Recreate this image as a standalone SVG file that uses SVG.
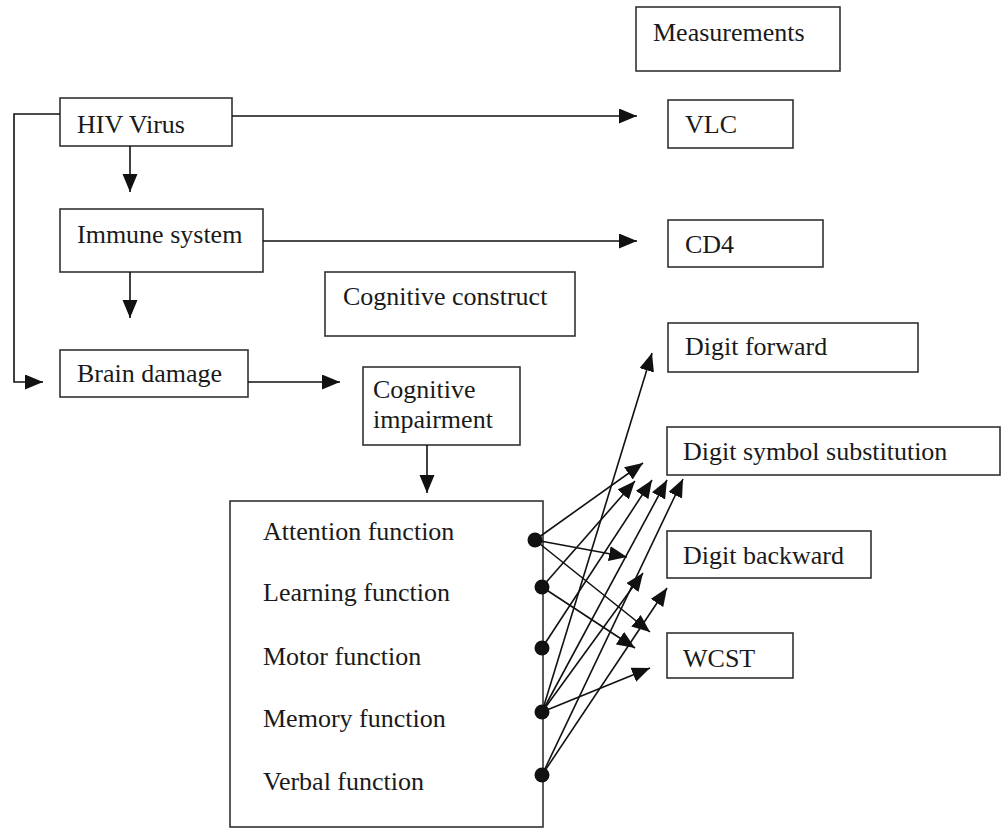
<svg xmlns="http://www.w3.org/2000/svg" width="1003" height="829" viewBox="0 0 1003 829">
<style>
.box{fill:#fff;stroke:#333;stroke-width:1.6}
.t{font-family:"Liberation Serif","Times New Roman",serif;font-size:26px;fill:#1a1a1a}
.c{fill:none;stroke:#111;stroke-width:1.6}
.dot{fill:#111}
</style>
<defs>
<marker id="ah" markerUnits="userSpaceOnUse" markerWidth="19" markerHeight="16" refX="18" refY="7.5" orient="auto">
<path d="M0,0 L18,7.5 L0,15 z" fill="#111"/>
</marker>
</defs>
<rect width="1003" height="829" fill="#fff"/>

<g id="measurements"><rect class="box" x="636" y="7" width="204" height="64"/><text class="t" x="653" y="41">Measurements</text></g>
<g id="hiv"><rect class="box" x="60" y="98" width="172" height="48"/><text class="t" x="77" y="133">HIV Virus</text></g>
<g id="vlc"><rect class="box" x="668" y="100" width="125" height="48"/><text class="t" x="685" y="133">VLC</text></g>
<g id="immune"><rect class="box" x="60" y="209" width="203" height="63"/><text class="t" x="77" y="243">Immune system</text></g>
<g id="cd4"><rect class="box" x="668" y="220" width="155" height="47"/><text class="t" x="685" y="253">CD4</text></g>
<g id="construct"><rect class="box" x="325" y="272" width="250" height="64"/><text class="t" x="343" y="305">Cognitive construct</text></g>
<g id="brain"><rect class="box" x="60" y="350" width="188" height="47"/><text class="t" x="77" y="382">Brain damage</text></g>
<g id="impairment"><rect class="box" x="363" y="367" width="157" height="78"/><text class="t" x="373" y="398">Cognitive</text><text class="t" x="373" y="428">impairment</text></g>
<g id="digitforward"><rect class="box" x="668" y="323" width="250" height="49"/><text class="t" x="685" y="355">Digit forward</text></g>
<g id="dss"><rect class="box" x="667" y="427" width="333" height="48"/><text class="t" x="683" y="460">Digit symbol substitution</text></g>
<g id="digitbackward"><rect class="box" x="667" y="531" width="204" height="47"/><text class="t" x="683" y="564">Digit backward</text></g>
<g id="wcst"><rect class="box" x="667" y="633" width="126" height="45"/><text class="t" x="683" y="667">WCST</text></g>
<g id="functions"><rect class="box" x="230" y="501" width="313" height="326"/>
<text class="t" x="263" y="540">Attention function</text>
<text class="t" x="263" y="601">Learning function</text>
<text class="t" x="263" y="665">Motor function</text>
<text class="t" x="263" y="727">Memory function</text>
<text class="t" x="263" y="790">Verbal function</text>
</g>

<g id="connectors">
<path class="c" d="M232,116 H637" marker-end="url(#ah)"/>
<path class="c" d="M263,241 H637" marker-end="url(#ah)"/>
<path class="c" d="M130,146 V192" marker-end="url(#ah)"/>
<path class="c" d="M130,272 V318" marker-end="url(#ah)"/>
<path class="c" d="M60,114 H14 V382 H43" marker-end="url(#ah)"/>
<path class="c" d="M248,382 H340" marker-end="url(#ah)"/>
<path class="c" d="M427,445 V493" marker-end="url(#ah)"/>

<path class="c" d="M535,540 L643,463" marker-end="url(#ah)"/>
<path class="c" d="M535,540 L627,557" marker-end="url(#ah)"/>
<path class="c" d="M535,540 L650,632" marker-end="url(#ah)"/>
<path class="c" d="M542,587 L635,481" marker-end="url(#ah)"/>
<path class="c" d="M542,587 L635,648" marker-end="url(#ah)"/>
<path class="c" d="M542,648 L652,480" marker-end="url(#ah)"/>
<path class="c" d="M542,712 L652,353" marker-end="url(#ah)"/>
<path class="c" d="M542,712 L667,480" marker-end="url(#ah)"/>
<path class="c" d="M542,712 L643,573" marker-end="url(#ah)"/>
<path class="c" d="M542,712 L650,668" marker-end="url(#ah)"/>
<path class="c" d="M542,775 L683,479" marker-end="url(#ah)"/>
<path class="c" d="M542,775 L667,588" marker-end="url(#ah)"/>
<circle class="dot" cx="535" cy="540" r="7.5"/>
<circle class="dot" cx="542" cy="587" r="7.5"/>
<circle class="dot" cx="542" cy="648" r="7.5"/>
<circle class="dot" cx="542" cy="712" r="7.5"/>
<circle class="dot" cx="542" cy="775" r="7.5"/>
</g>
</svg>
